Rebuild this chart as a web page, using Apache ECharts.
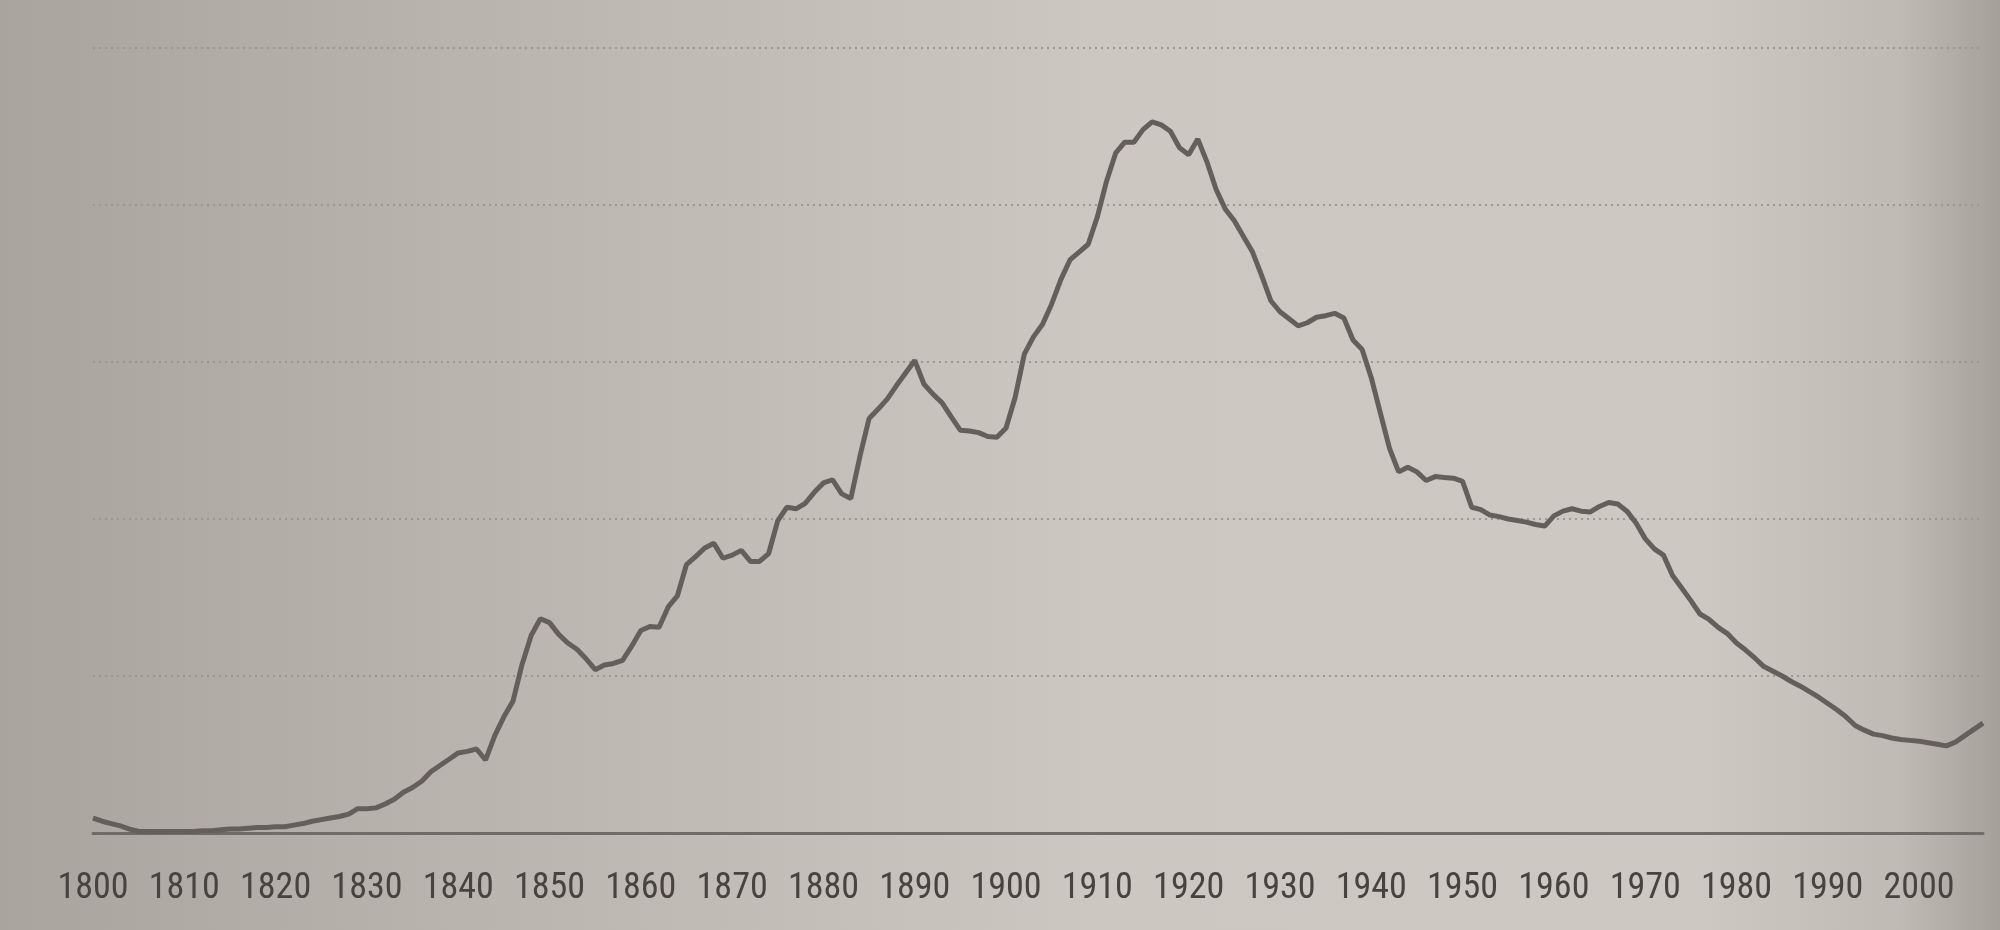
<!DOCTYPE html>
<html>
<head>
<meta charset="utf-8">
<script src="https://cdn.jsdelivr.net/npm/echarts@6/dist/echarts.min.js"></script>
<style>
html,body{margin:0;padding:0;background:#c4bfb9;}
#chart{width:2000px;height:930px;}
</style>
</head>
<body>
<div id="chart"></div>
<script>
// Years 1800..2007 (one value per year)
const startYear = 1800;
const values = [
  1.9, 1.5, 1.2, 0.9, 0.5, 0.2, 0.2, 0.2, 0.2, 0.2,      // 1800-1809
  0.2, 0.2, 0.3, 0.3, 0.4, 0.5, 0.5, 0.6, 0.7, 0.7,      // 1810-1819
  0.8, 0.8, 1.0, 1.2, 1.5, 1.7, 1.9, 2.1, 2.4, 3.1,      // 1820-1829
  3.1, 3.2, 3.7, 4.3, 5.2, 5.8, 6.6, 7.8, 8.6, 9.4,      // 1830-1839
  10.2, 10.4, 10.7, 9.3, 12.4, 14.8, 16.8, 21.5, 25.2, 27.3, // 1840-1849
  26.8, 25.3, 24.2, 23.4, 22.2, 20.8, 21.4, 21.6, 22.0, 23.8, // 1850-1859
  25.8, 26.3, 26.2, 28.8, 30.2, 34.2, 35.2, 36.3, 36.9, 35.0, // 1860-1869
  35.4, 36.0, 34.6, 34.6, 35.6, 39.8, 41.5, 41.3, 42.0, 43.4, // 1870-1879
  44.6, 45.0, 43.2, 42.6, 48.0, 52.8, 54.0, 55.3, 57.0, 58.6, // 1880-1889
  60.2, 57.2, 55.9, 54.8, 53.0, 51.3, 51.2, 51.0, 50.5, 50.4, // 1890-1899
  51.6, 55.5, 61.0, 63.2, 64.8, 67.4, 70.5, 73.0, 74.0, 75.0, // 1900-1909
  78.5, 83.0, 86.6, 88.0, 88.0, 89.6, 90.6, 90.2, 89.4, 87.3, // 1910-1919
  86.4, 88.4, 85.5, 82.0, 79.5, 78.0, 76.0, 74.0, 71.0, 67.8, // 1920-1929
  66.4, 65.5, 64.6, 65.0, 65.7, 65.9, 66.2, 65.6, 62.8, 61.6, // 1930-1939
  58.0, 53.5, 49.0, 46.0, 46.6, 46.0, 44.9, 45.4, 45.3, 45.2, // 1940-1949
  44.8, 41.5, 41.2, 40.5, 40.3, 40.0, 39.8, 39.6, 39.3, 39.1, // 1950-1959
  40.4, 41.0, 41.3, 41.0, 40.9, 41.6, 42.1, 41.9, 41.0, 39.5, // 1960-1969
  37.5, 36.2, 35.4, 32.8, 31.2, 29.6, 27.9, 27.2, 26.2, 25.4, // 1970-1979
  24.2, 23.3, 22.3, 21.2, 20.6, 20.0, 19.3, 18.7, 18.0, 17.3, // 1980-1989
  16.5, 15.7, 14.8, 13.7, 13.1, 12.6, 12.4, 12.1, 11.9, 11.8, // 1990-1999
  11.7, 11.5, 11.3, 11.1, 11.6, 12.4, 13.2, 14.0             // 2000-2007
];
const years = values.map((v, i) => startYear + i);
const tickLabels = ['1800','1810','1820','1830','1840','1850','1860','1870','1880','1890','1900','1910','1920','1930','1940','1950','1960','1970','1980','1990','2000'];

const seriesData = years.map((y, i) => [y, values[i]]);

const chart = echarts.init(document.getElementById('chart'), null, {renderer: 'canvas'});
chart.setOption({
  backgroundColor: 'transparent',
  animation: false,
  graphic: [{
    type: 'rect',
    z: -100,
    silent: true,
    shape: {x: 0, y: 0, width: 2000, height: 930},
    style: {
      fill: new echarts.graphic.LinearGradient(0, 0, 1, 0, [
        {offset: 0, color: '#aaa49f'},
        {offset: 0.25, color: '#bbb5b0'},
        {offset: 0.55, color: '#ccc7c1'},
        {offset: 0.85, color: '#cdc8c2'},
        {offset: 0.95, color: '#c0bab4'},
        {offset: 1, color: '#a6a09a'}
      ])
    }
  }],
  grid: {left: 93, right: 17, top: 48, bottom: 97, containLabel: false},
  xAxis: {
    type: 'value',
    min: 1800,
    max: 2007,
    interval: 10,
    axisLine: {show: true, lineStyle: {color: '#716b67', width: 3}},
    axisTick: {show: false},
    splitLine: {show: false},
    axisLabel: {
      show: true,
      showMaxLabel: false,
      margin: 38,
      color: '#48433f',
      fontSize: 36,
      fontWeight: 'normal',
      fontFamily: "'Liberation Sans Narrow', 'Roboto Condensed', 'DejaVu Sans Condensed', sans-serif",
      formatter: function (v) {
        const s = String(v);
        return tickLabels.indexOf(s) >= 0 ? s : '';
      }
    }
  },
  yAxis: {
    type: 'value',
    min: 0,
    max: 100,
    interval: 20,
    axisLine: {show: false},
    axisTick: {show: false},
    axisLabel: {show: false},
    splitLine: {show: true, lineStyle: {color: '#9d9792', width: 2, type: [2, 4]}}
  },
  series: [{
    type: 'line',
    data: seriesData,
    showSymbol: false,
    symbol: 'none',
    smooth: false,
    lineStyle: {color: '#655f5c', width: 5},
    z: 5
  }]
});
</script>
</body>
</html>
